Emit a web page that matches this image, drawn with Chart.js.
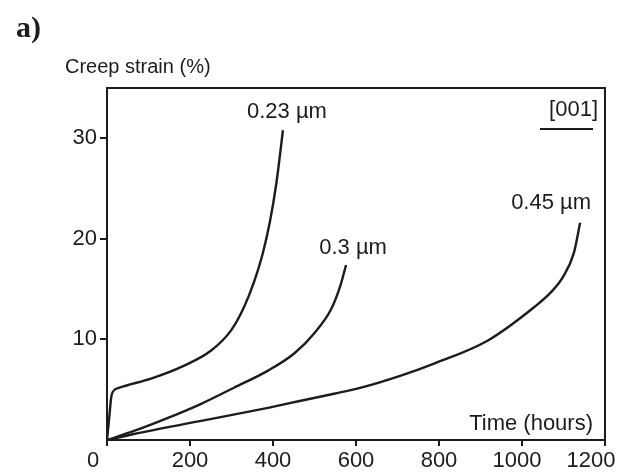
<!DOCTYPE html>
<html>
<head>
<meta charset="utf-8">
<script src="https://cdn.jsdelivr.net/npm/chart.js@4.4.1/dist/chart.umd.min.js"></script>
<style>
  body { margin: 0; background: #fff; }
  #wrap { width: 620px; height: 475px; }
</style>
</head>
<body>
<div id="wrap"><canvas id="creepChart" width="620" height="475"></canvas></div>
<script>
// series: time (hours) vs creep strain (%)
const seriesNames = ["0.23 \u00b5m", "0.3 \u00b5m", "0.45 \u00b5m"];

const hours023 = [0, 6, 10, 14, 30, 106, 186, 251, 299, 330, 355, 375, 393, 408, 424];
const strain023 = [0, 2.5, 4.2, 4.8, 5.2, 6.1, 7.4, 8.9, 10.9, 13.2, 15.8, 18.5, 21.8, 25.5, 30.8];

const hours03 = [0, 65, 147, 227, 306, 388, 451, 499, 540, 562, 576];
const strain03 = [0, 0.9, 2.2, 3.6, 5.2, 6.9, 8.6, 10.6, 13.0, 15.3, 17.4];

const hours045 = [0, 65, 227, 388, 467, 547, 612, 708, 788, 918, 1029, 1070, 1100, 1125, 1140];
const strain045 = [0, 0.6, 1.9, 3.2, 3.9, 4.6, 5.2, 6.4, 7.6, 9.9, 13.2, 14.7, 16.3, 18.6, 21.6];

const xTicks = [0, 200, 400, 600, 800, 1000, 1200];
const yTicks = [10, 20, 30];

const toPoints = (xs, ys) => xs.map((x, i) => ({x: x, y: ys[i]}));

const INK = "#1c1c1c";
const FONT = "'Liberation Sans', Arial, sans-serif";

// where each curve label sits relative to the curve's last point (px)
const labelShift = [[4, -18], [7, -17], [-29, -20]];
// x tick labels are not all centred under their tick in the original
const xLabelShift = {0: -14, 1000: -5, 1200: -14};

const decorations = {
    id: "decorations",
    afterDraw(chart) {
        const {ctx, chartArea: a, scales: {x, y}} = chart;
        ctx.save();

        // frame
        ctx.strokeStyle = INK;
        ctx.lineWidth = 2;
        ctx.strokeRect(a.left, a.top, a.right - a.left, a.bottom - a.top);

        ctx.fillStyle = INK;
        ctx.textBaseline = "middle";

        // x tick labels
        ctx.font = "22px " + FONT;
        ctx.textAlign = "center";
        xTicks.forEach(v => {
            ctx.fillText(String(v), x.getPixelForValue(v) + (xLabelShift[v] || 0), a.bottom + 21);
        });

        // curve labels
        chart.data.datasets.forEach((ds, i) => {
            const last = ds.data[ds.data.length - 1];
            const px = x.getPixelForValue(last.x) + labelShift[i][0];
            const py = y.getPixelForValue(last.y) + labelShift[i][1];
            ctx.fillText(ds.label, px, py);
        });

        // axis titles
        ctx.font = "20px " + FONT;
        ctx.textAlign = "left";
        ctx.fillText("Creep strain (%)", 65, 67);

        ctx.font = "22px " + FONT;
        ctx.textAlign = "right";
        ctx.fillText("Time (hours)", a.right - 12, a.bottom - 16);

        // orientation tag
        ctx.fillText("[001]", a.right - 7, a.top + 22);
        ctx.lineWidth = 2;
        ctx.beginPath();
        ctx.moveTo(a.right - 65, a.top + 41);
        ctx.lineTo(a.right - 12, a.top + 41);
        ctx.stroke();

        // panel letter
        ctx.font = "bold 30px 'Liberation Serif', 'Times New Roman', serif";
        ctx.textAlign = "left";
        ctx.fillText("a)", 16, 29);

        ctx.restore();
    }
};

document.addEventListener("DOMContentLoaded", () => {
    const ctx = document.getElementById("creepChart").getContext("2d");

    const lineStyle = {
        borderColor: INK,
        borderWidth: 2.4,
        pointRadius: 0,
        fill: false,
        cubicInterpolationMode: "monotone"
    };

    new Chart(ctx, {
        type: "line",
        data: {
            datasets: [
                { label: seriesNames[0], data: toPoints(hours023, strain023), ...lineStyle },
                { label: seriesNames[1], data: toPoints(hours03, strain03), ...lineStyle },
                { label: seriesNames[2], data: toPoints(hours045, strain045), ...lineStyle }
            ]
        },
        options: {
            responsive: false,
            animation: false,
            devicePixelRatio: 1,
            layout: {padding: {top: 88, right: 15, left: 0, bottom: 0}},
            plugins: {legend: {display: false}, tooltip: {enabled: false}},
            scales: {
                x: {
                    type: "linear",
                    min: 0, max: 1200,
                    afterBuildTicks: s => { s.ticks = xTicks.map(v => ({value: v})); },
                    ticks: {display: false},
                    grid: {drawOnChartArea: false, drawTicks: true, tickLength: 6, color: INK, lineWidth: 2},
                    border: {display: false},
                    afterFit: s => { s.height = 35; }
                },
                y: {
                    min: 0, max: 35,
                    afterBuildTicks: s => { s.ticks = yTicks.map(v => ({value: v})); },
                    ticks: {color: INK, font: {size: 22, family: FONT}, padding: 3},
                    grid: {drawOnChartArea: false, drawTicks: true, tickLength: 7, color: INK, lineWidth: 2},
                    border: {display: false},
                    afterFit: s => { s.width = 107; }
                }
            }
        },
        plugins: [decorations]
    });
});
</script>
</body>
</html>
